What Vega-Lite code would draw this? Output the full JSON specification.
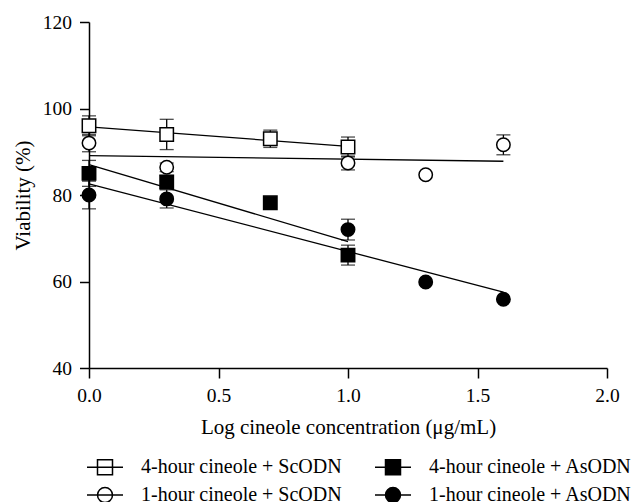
{
  "$schema": "https://vega.github.io/schema/vega-lite/v6.json",
  "width": 518,
  "height": 346,
  "autosize": "none",
  "padding": {"left": 89, "top": 22, "right": 33, "bottom": 134},
  "background": "white",
  "config": {
    "view": {"stroke": null},
    "font": "Liberation Serif",
    "axis": {
      "grid": false,
      "domainColor": "black",
      "domainWidth": 1.5,
      "tickColor": "black",
      "tickWidth": 1.5,
      "labelColor": "black",
      "labelFont": "Liberation Serif",
      "labelFontSize": 19.5,
      "titleFont": "Liberation Serif",
      "titleFontSize": 21,
      "titleFontWeight": "normal",
      "titleColor": "black",
      "labelFlush": false,
      "labelOverlap": false
    },
    "legend": {
      "labelFont": "Liberation Serif",
      "labelFontSize": 20,
      "labelColor": "black",
      "labelLimit": 400
    }
  },
  "datasets": {
    "pts": [
      {"series": "4-hour cineole + ScODN", "x": 0.0, "y": 96.0, "err": 2.3},
      {"series": "4-hour cineole + ScODN", "x": 0.3, "y": 94.0, "err": 3.5},
      {"series": "4-hour cineole + ScODN", "x": 0.7, "y": 93.0, "err": 2.0},
      {"series": "4-hour cineole + ScODN", "x": 1.0, "y": 91.1, "err": 2.3},
      {"series": "1-hour cineole + ScODN", "x": 0.0, "y": 92.0, "err": 2.0},
      {"series": "1-hour cineole + ScODN", "x": 0.3, "y": 86.4, "err": 1.0},
      {"series": "1-hour cineole + ScODN", "x": 1.0, "y": 87.4, "err": 1.6},
      {"series": "1-hour cineole + ScODN", "x": 1.3, "y": 84.7, "err": 0},
      {"series": "1-hour cineole + ScODN", "x": 1.6, "y": 91.6, "err": 2.3},
      {"series": "4-hour cineole + AsODN", "x": 0.0, "y": 85.0, "err": 3.0},
      {"series": "4-hour cineole + AsODN", "x": 0.3, "y": 83.0, "err": 1.5},
      {"series": "4-hour cineole + AsODN", "x": 0.7, "y": 78.2, "err": 0},
      {"series": "4-hour cineole + AsODN", "x": 1.0, "y": 66.1, "err": 2.3},
      {"series": "1-hour cineole + AsODN", "x": 0.0, "y": 80.0, "err": 3.2},
      {"series": "1-hour cineole + AsODN", "x": 0.3, "y": 79.1, "err": 2.1},
      {"series": "1-hour cineole + AsODN", "x": 1.0, "y": 72.0, "err": 2.4},
      {"series": "1-hour cineole + AsODN", "x": 1.3, "y": 59.9, "err": 0},
      {"series": "1-hour cineole + AsODN", "x": 1.6, "y": 55.9, "err": 0}
    ],
    "fits": [
      {"series": "4-hour cineole + ScODN", "x": 0.0, "y": 95.75},
      {"series": "4-hour cineole + ScODN", "x": 1.0, "y": 91.25},
      {"series": "1-hour cineole + ScODN", "x": 0.0, "y": 89.1},
      {"series": "1-hour cineole + ScODN", "x": 1.6, "y": 87.8},
      {"series": "4-hour cineole + AsODN", "x": 0.0, "y": 87.05},
      {"series": "4-hour cineole + AsODN", "x": 1.0, "y": 69.2},
      {"series": "1-hour cineole + AsODN", "x": 0.0, "y": 82.6},
      {"series": "1-hour cineole + AsODN", "x": 1.6, "y": 57.55}
    ]
  },
  "encoding": {
    "x": {
      "field": "x", "type": "quantitative",
      "scale": {"domain": [0, 2], "nice": false, "zero": false},
      "axis": {
        "title": "Log cineole concentration (μg/mL)",
        "values": [0, 0.5, 1, 1.5, 2],
        "format": ".1f",
        "tickSize": 10,
        "labelPadding": 8,
        "titlePadding": 12
      }
    },
    "y": {
      "field": "y", "type": "quantitative",
      "scale": {"domain": [40, 120], "nice": false, "zero": false},
      "axis": {
        "title": "Viability (%)",
        "values": [40, 60, 80, 100, 120],
        "tickSize": 9.5,
        "labelPadding": 8,
        "titlePadding": 9
      }
    }
  },
  "layer": [
    {
      "data": {"name": "pts"},
      "transform": [{"filter": "datum.err > 0"}],
      "mark": {"type": "errorbar", "color": "black", "thickness": 1.3, "ticks": {"size": 14, "thickness": 1.3, "color": "black"}},
      "encoding": {
        "yError": {"field": "err"},
        "detail": {"field": "series"}
      }
    },
    {
      "data": {"name": "fits"},
      "mark": {"type": "line", "color": "black", "strokeWidth": 1.3},
      "encoding": {
        "detail": {"field": "series"}
      }
    },
    {
      "data": {"name": "pts"},
      "transform": [{"filter": "indexof(datum.series, '4-hour') == 0"}],
      "mark": {"type": "point", "shape": "square", "stroke": "black", "strokeWidth": 1.5, "opacity": 1, "size": 180},
      "encoding": {
        "fill": {
          "field": "series", "type": "nominal",
          "scale": {
            "domain": ["4-hour cineole + ScODN", "4-hour cineole + AsODN", "1-hour cineole + ScODN", "1-hour cineole + AsODN"],
            "range": ["white", "black", "white", "black"]
          }
        }
      }
    },
    {
      "data": {"name": "pts"},
      "transform": [{"filter": "indexof(datum.series, '1-hour') == 0"}],
      "mark": {"type": "point", "shape": "circle", "stroke": "black", "strokeWidth": 1.5, "opacity": 1, "size": 180},
      "encoding": {
        "fill": {
          "field": "series", "type": "nominal",
          "scale": {
            "domain": ["4-hour cineole + ScODN", "4-hour cineole + AsODN", "1-hour cineole + ScODN", "1-hour cineole + AsODN"],
            "range": ["white", "black", "white", "black"]
          }
        }
      }
    },
    {
      "data": {"name": "pts"},
      "transform": [{"filter": "datum.err < -1000"}],
      "mark": {"type": "point", "strokeWidth": 1.5, "opacity": 1, "size": 225},
      "encoding": {
        "shape": {
          "field": "series", "type": "nominal",
          "scale": {
            "domain": ["4-hour cineole + ScODN", "4-hour cineole + AsODN", "1-hour cineole + ScODN", "1-hour cineole + AsODN"],
            "range": ["M-2.4,0H2.4M-1,-1H1V1H-1Z", "M-2.4,0H2.4M-1,-1H1V1H-1Z", "M-2.4,0H2.4M1,0A1,1,0,1,1,-1,0A1,1,0,1,1,1,0Z", "M-2.4,0H2.4M1,0A1,1,0,1,1,-1,0A1,1,0,1,1,1,0Z"]
          },
          "legend": {
            "title": null,
            "orient": "bottom",
            "direction": "horizontal",
            "columns": 2,
            "columnPadding": 30,
            "rowPadding": 6,
            "padding": 0,
            "offset": 19,
            "symbolSize": 225,
            "symbolStrokeWidth": 1.5,
            "symbolOffset": 6,
            "labelOffset": 26
          }
        },
        "fill": {
          "field": "series", "type": "nominal",
          "scale": {
            "domain": ["4-hour cineole + ScODN", "4-hour cineole + AsODN", "1-hour cineole + ScODN", "1-hour cineole + AsODN"],
            "range": ["white", "black", "white", "black"]
          },
          "legend": {
            "title": null,
            "orient": "bottom",
            "direction": "horizontal",
            "columns": 2,
            "columnPadding": 30,
            "rowPadding": 6,
            "padding": 0,
            "offset": 19,
            "symbolSize": 225,
            "symbolStrokeWidth": 1.5,
            "symbolOffset": 6,
            "labelOffset": 26
          }
        },
        "stroke": {
          "field": "series", "type": "nominal",
          "scale": {
            "domain": ["4-hour cineole + ScODN", "4-hour cineole + AsODN", "1-hour cineole + ScODN", "1-hour cineole + AsODN"],
            "range": ["black", "black", "black", "black"]
          },
          "legend": {
            "title": null,
            "orient": "bottom",
            "direction": "horizontal",
            "columns": 2,
            "columnPadding": 30,
            "rowPadding": 6,
            "padding": 0,
            "offset": 19,
            "symbolSize": 225,
            "symbolStrokeWidth": 1.5,
            "symbolOffset": 6,
            "labelOffset": 26
          }
        }
      }
    }
  ]
}
